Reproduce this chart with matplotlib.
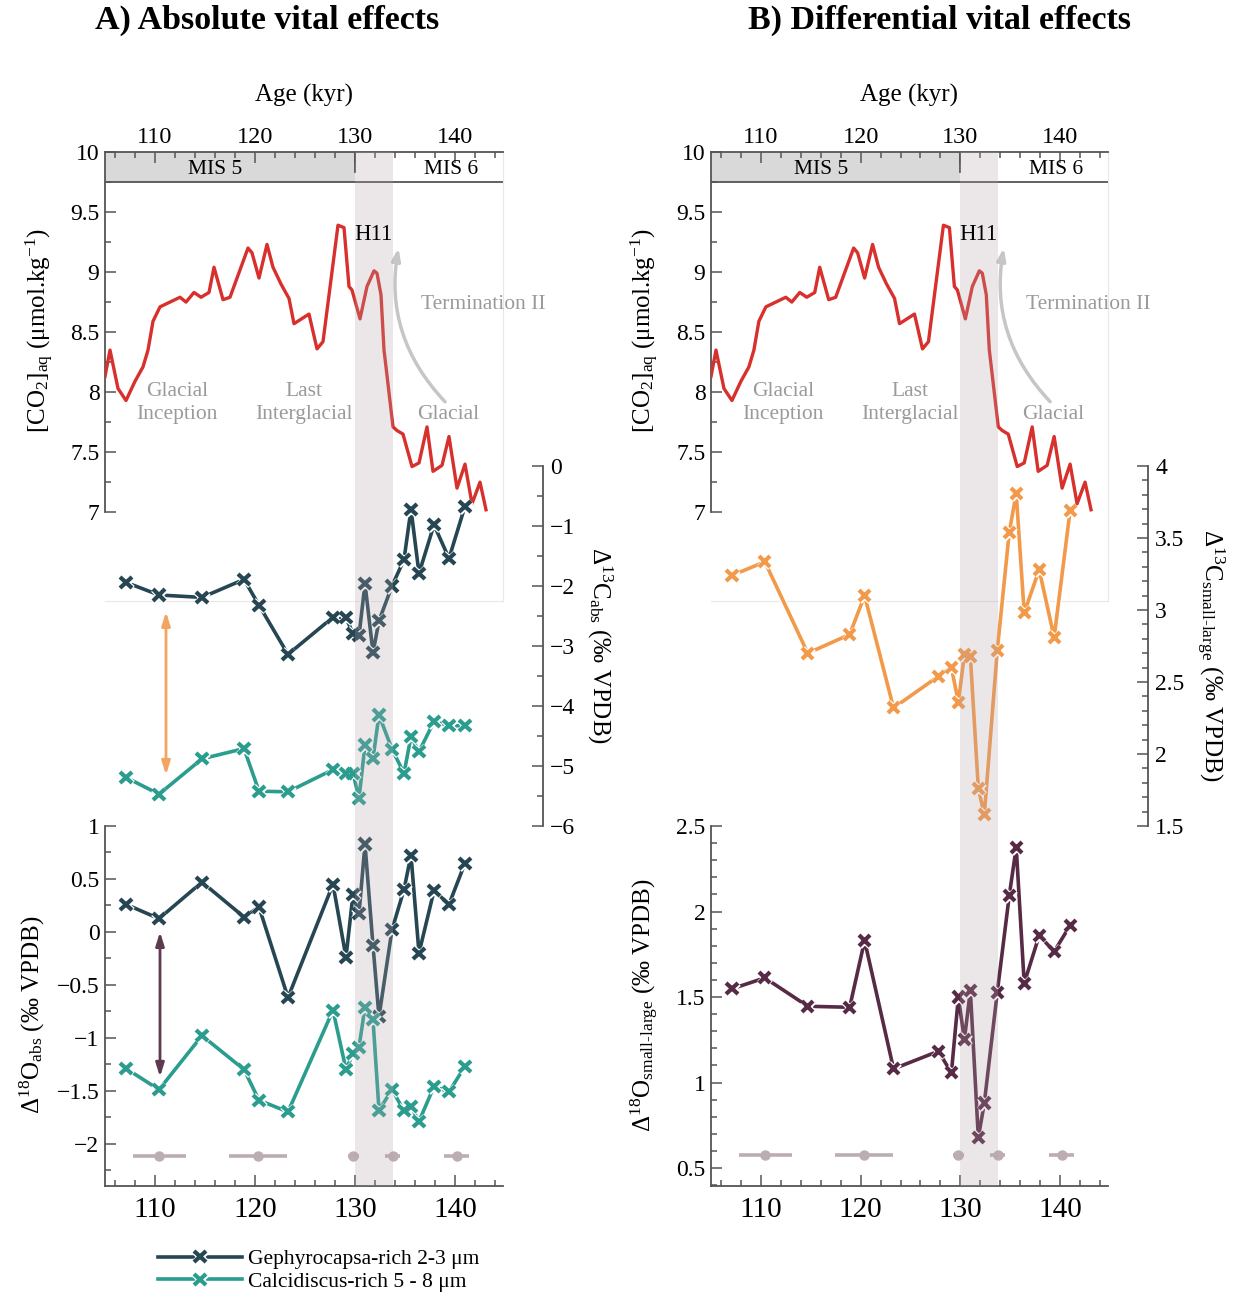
import matplotlib
matplotlib.use('Agg')
import matplotlib.pyplot as plt
import numpy as np
import matplotlib.patheffects as pe
from matplotlib.ticker import MultipleLocator, FixedLocator, FuncFormatter
from matplotlib.patches import Rectangle

plt.rcParams.update({
    'font.family': ['Liberation Serif', 'DejaVu Serif'],
    'mathtext.fontset': 'custom',
    'mathtext.rm': 'Liberation Serif',
    'mathtext.it': 'Liberation Serif:italic',
    'mathtext.bf': 'Liberation Serif:bold',
    'axes.unicode_minus': True,
})

# ---------------- data ----------------
co2_age = [105.0, 105.5, 106.3, 107.1, 108.0, 108.8, 109.3, 109.8, 110.5, 112.5,
           113.1, 113.9, 114.6, 115.4, 115.9, 116.8, 117.5, 119.3, 119.7, 120.4,
           121.2, 121.8, 122.6, 123.4, 123.9, 125.4, 126.2, 126.8, 128.3, 128.9,
           129.4, 129.7, 130.5, 131.2, 131.9, 132.2, 132.6, 132.9, 133.1, 133.8,
           134.2, 134.8, 135.7, 136.4, 137.2, 137.8, 138.7, 139.4, 140.2, 141.0,
           141.7, 142.5, 143.1]
co2_aq = [8.13, 8.35, 8.03, 7.93, 8.09, 8.21, 8.35, 8.59, 8.71, 8.79,
          8.75, 8.83, 8.79, 8.83, 9.04, 8.77, 8.79, 9.20, 9.16, 8.95,
          9.23, 9.04, 8.90, 8.78, 8.57, 8.65, 8.36, 8.42, 9.39, 9.37,
          8.88, 8.85, 8.61, 8.88, 9.01, 8.99, 8.81, 8.35, 8.21, 7.71,
          7.68, 7.65, 7.38, 7.41, 7.71, 7.34, 7.39, 7.63, 7.20, 7.40,
          7.07, 7.25, 7.02]

sample_age = [107.1, 110.4, 114.7, 118.9, 120.4, 123.3, 127.8, 129.1, 129.8, 130.4,
              131.0, 131.8, 132.4, 133.7, 134.9, 135.6, 136.4, 137.9, 139.4, 141.0]
d13c_geph = [-1.94, -2.15, -2.19, -1.89, -2.32, -3.14, -2.52, -2.53, -2.79, -2.83,
             -1.96, -3.11, -2.58, -2.00, -1.56, -0.72, -1.79, -0.98, -1.54, -0.67]
d13c_calc = [-5.19, -5.47, -4.88, -4.71, -5.42, -5.43, -5.06, -5.12, -5.12, -5.54,
             -4.65, -4.87, -4.15, -4.72, -5.12, -4.51, -4.76, -4.26, -4.33, -4.33]
d18o_geph = [0.26, 0.125, 0.47, 0.14, 0.235, -0.62, 0.45, -0.24, 0.355, 0.17,
             0.83, -0.13, -0.80, 0.02, 0.40, 0.725, -0.20, 0.39, 0.26, 0.65]
d18o_calc = [-1.29, -1.49, -0.98, -1.30, -1.59, -1.70, -0.74, -1.30, -1.15, -1.09,
             -0.71, -0.83, -1.685, -1.49, -1.69, -1.65, -1.79, -1.46, -1.51, -1.27]
d13c_small_large = [3.24, 3.335, 2.70, 2.83, 3.10, 2.32, 2.54, 2.60, 2.36, 2.69,
                    2.68, 1.76, 1.58, 2.72, 3.54, 3.81, 2.98, 3.28, 2.81, 3.69]
d18o_small_large = [1.548, 1.612, 1.446, 1.44, 1.83, 1.08, 1.183, 1.057, 1.50, 1.25,
                    1.538, 0.678, 0.88, 1.528, 2.093, 2.375, 1.58, 1.86, 1.766, 1.918]

# age control points with uncertainty
tie_age = [110.4, 120.3, 129.8, 133.8, 140.2]
tie_err_lo = [2.6, 2.9, 0.5, 0.8, 1.3]
tie_err_hi = [2.7, 2.9, 0.6, 0.7, 1.2]

age_ticks = [110, 120, 130, 140]
h11 = (130.0, 133.75)

# ---------------- style ----------------
C_RED = '#d7302d'
C_DARK = '#264653'
C_TEAL = '#2a9d8f'
C_ORANGE = '#f2994a'
C_PURPLE = '#572a45'
C_TIE = '#bcadb4'
C_SPINE = '#555555'
C_GRAYTXT = '#9a9a9a'

W, H = 1233, 1296
fig = plt.figure(figsize=(W / 100, H / 100), dpi=100)


def fpos(x0, y0, x1, y1):
    return [x0 / W, 1 - y1 / H, (x1 - x0) / W, (y1 - y0) / H]


def fmt(v, p):
    return ('%g' % v).replace('-', '\u2212')


XLIM = (105, 144.8)
halo = [pe.Stroke(linewidth=4.8, foreground='white'), pe.Normal()]


def style_spines(ax):
    for s in ax.spines.values():
        s.set_color(C_SPINE)
        s.set_linewidth(1.3)
    ax.tick_params(which='both', color=C_SPINE, width=1.1, direction='in')
    ax.tick_params(which='major', length=8)
    ax.tick_params(which='minor', length=4.5)


def build_column(x0, x1, panel):
    # ---- top: CO2 ----
    ax = fig.add_axes(fpos(x0, 152, x1, 601))
    style_spines(ax)
    ax.set_xlim(*XLIM)
    ax.set_ylim(6.26, 10)
    ax.spines['left'].set_bounds(7, 10)
    for s in ('right', 'bottom'):
        ax.spines[s].set_color('#e8e8e8')
        ax.spines[s].set_linewidth(0.8)
    ax.xaxis.tick_top()
    ax.set_xticks(age_ticks)
    ax.xaxis.set_minor_locator(MultipleLocator(2))
    ax.tick_params(axis='x', which='both', top=True, bottom=False,
                   labeltop=True, labelbottom=False, labelsize=17.5, pad=3)
    ax.set_yticks(np.arange(7, 10.01, 0.5))
    ax.yaxis.set_minor_locator(FixedLocator(np.arange(7.25, 9.8, 0.5)))
    ax.yaxis.set_major_formatter(FuncFormatter(fmt))
    ax.tick_params(axis='y', which='both', left=True, right=False, labelsize=17, pad=4)
    ax.add_patch(Rectangle((XLIM[0], 9.75), 130 - XLIM[0], 0.25,
                           facecolor='#d9d9d9', edgecolor='none', zorder=1))
    ax.axhline(9.75, color=C_SPINE, lw=1.3, zorder=2)
    ax.plot([130, 130], [10, 9.83], color=C_SPINE, lw=1.3, zorder=2)
    ax.text(116.0, 9.855, 'MIS 5', ha='center', va='center', fontsize=15.5, zorder=3)
    ax.text(139.6, 9.855, 'MIS 6', ha='center', va='center', fontsize=15.5, zorder=3)
    ax.plot(co2_age, co2_aq, color=C_RED, lw=2.4, zorder=4)
    ax.text(112.2, 7.91, 'Glacial\nInception', ha='center', va='center',
            fontsize=15.5, color=C_GRAYTXT, linespacing=1.3)
    ax.text(124.9, 7.91, 'Last\nInterglacial', ha='center', va='center',
            fontsize=15.5, color=C_GRAYTXT, linespacing=1.3)
    ax.text(139.3, 7.81, 'Glacial', ha='center', va='center',
            fontsize=15.5, color=C_GRAYTXT)
    ax.text(136.6, 8.73, 'Termination II', ha='left', va='center',
            fontsize=15.5, color=C_GRAYTXT, clip_on=False)
    ax.annotate('', xy=(134.35, 9.2), xytext=(139.0, 7.92),
                arrowprops=dict(arrowstyle='-|>,head_length=0.7,head_width=0.25',
                                color='#c6c6c6', lw=2.5,
                                connectionstyle='arc3,rad=-0.25',
                                shrinkA=0, shrinkB=0))
    ax_top = ax

    # ---- middle: delta13C ----
    ax = fig.add_axes(fpos(x0, 466, x1, 826))
    ax.patch.set_visible(False)
    style_spines(ax)
    ax.set_xlim(*XLIM)
    for s in ('left', 'top', 'bottom'):
        ax.spines[s].set_visible(False)
    ax.spines['right'].set_position(('outward', 29))
    ax.set_xticks([])
    ax.yaxis.tick_right()
    ax.yaxis.set_major_formatter(FuncFormatter(fmt))
    ax.tick_params(axis='y', which='both', right=True, left=False,
                   labelright=True, labelleft=False, labelsize=17, pad=5)
    if panel == 'A':
        ax.set_ylim(-6, 0)
        ax.set_yticks(np.arange(-6, 0.01, 1))
        ax.yaxis.set_minor_locator(MultipleLocator(0.5))
        ax.plot(sample_age, d13c_geph, color=C_DARK, lw=2.6, marker='x', ms=8,
                mew=3, path_effects=halo, zorder=5)
        ax.plot(sample_age, d13c_calc, color=C_TEAL, lw=2.6, marker='x', ms=8,
                mew=3, path_effects=halo, zorder=5)
        ax.annotate('', xy=(111.1, -2.43), xytext=(111.1, -5.15),
                    arrowprops=dict(arrowstyle='<|-|>,head_length=0.8,head_width=0.25',
                                    color='#f4a460', lw=2, shrinkA=0, shrinkB=0))
        fig.text(600 / W, 1 - 645 / H, 'Δ$^{13}$C$_{\\mathrm{abs}}$ (‰ VPDB)',
                 rotation=270, ha='center', va='center', fontsize=18)
    else:
        ax.set_ylim(1.5, 4)
        ax.set_yticks(np.arange(1.5, 4.01, 0.5))
        ax.yaxis.set_minor_locator(MultipleLocator(0.1))
        ax.plot(sample_age, d13c_small_large, color=C_ORANGE, lw=2.6, marker='x',
                ms=8, mew=3, path_effects=halo, zorder=5)
        fig.text(1210 / W, 1 - 655 / H,
                 'Δ$^{13}$C$_{\\text{small-large}}$ (‰ VPDB)',
                 rotation=270, ha='center', va='center', fontsize=18)

    # ---- bottom: delta18O ----
    ax = fig.add_axes(fpos(x0, 826, x1, 1186))
    ax.patch.set_visible(False)
    style_spines(ax)
    ax.set_xlim(*XLIM)
    ax.spines['right'].set_visible(False)
    ax.spines['top'].set_visible(False)
    ax.set_xticks(age_ticks)
    ax.xaxis.set_minor_locator(MultipleLocator(2))
    ax.tick_params(axis='x', which='both', top=False, bottom=True,
                   labelsize=21, pad=8)
    ax.yaxis.set_major_formatter(FuncFormatter(fmt))
    ax.tick_params(axis='y', which='both', labelsize=17, pad=4)
    if panel == 'A':
        ax.set_ylim(-2.4, 1)
        ax.set_yticks(np.arange(-2, 1.01, 0.5))
        ax.yaxis.set_minor_locator(MultipleLocator(0.25))
        l1, = ax.plot(sample_age, d18o_geph, color=C_DARK, lw=2.6, marker='x', ms=8,
                      mew=3, path_effects=halo, zorder=5,
                      label='Gephyrocapsa-rich 2-3 μm')
        l2, = ax.plot(sample_age, d18o_calc, color=C_TEAL, lw=2.6, marker='x', ms=8,
                      mew=3, path_effects=halo, zorder=5,
                      label='Calcidiscus-rich 5 - 8 μm')
        ax.annotate('', xy=(110.5, 0.0), xytext=(110.5, -1.37),
                    arrowprops=dict(arrowstyle='<|-|>,head_length=0.8,head_width=0.25',
                                    color='#5e3a50', lw=2, shrinkA=0, shrinkB=0))
        tie_y = -2.12
        fig.text(32 / W, 1 - 1015 / H, 'Δ$^{18}$O$_{\\mathrm{abs}}$ (‰ VPDB)',
                 rotation=90, ha='center', va='center', fontsize=18)
        fig.legend(handles=[l1, l2], loc='upper left',
                   bbox_to_anchor=(158 / W, 1 - 1249 / H), frameon=False,
                   fontsize=15.5, handlelength=3.9, handletextpad=0.3,
                   borderpad=0, borderaxespad=0, labelspacing=0.12)
    else:
        ax.set_ylim(0.395, 2.5)
        ax.set_yticks(np.arange(0.5, 2.51, 0.5))
        ax.yaxis.set_minor_locator(MultipleLocator(0.1))
        ax.plot(sample_age, d18o_small_large, color=C_PURPLE, lw=2.6, marker='x',
                ms=8, mew=3, path_effects=halo, zorder=5)
        tie_y = 0.575
        fig.text(645 / W, 1 - 1005 / H,
                 'Δ$^{18}$O$_{\\text{small-large}}$ (‰ VPDB)',
                 rotation=90, ha='center', va='center', fontsize=18)
    ax.errorbar(tie_age, [tie_y] * len(tie_age), xerr=[tie_err_lo, tie_err_hi],
                fmt='o', color=C_TIE, ms=6.5, elinewidth=2.6, capsize=0, zorder=4)

    # ---- H11 overlay band ----
    ov = fig.add_axes(fpos(x0, 152, x1, 1186))
    ov.set_xlim(*XLIM)
    ov.set_ylim(0, 1)
    ov.axvspan(h11[0], h11[1], color='#b3a3ab', alpha=0.25, lw=0)
    ov.axis('off')
    ov.text(131.8, 9.31, 'H11', transform=ax_top.transData, ha='center',
            va='center', fontsize=16.5, color='black')

    # CO2 label + Age label
    lx = 40 if panel == 'A' else 645
    fig.text(lx / W, 1 - 330 / H, '[CO$_2$]$_{\\mathrm{aq}}$ (μmol.kg$^{-1}$)',
             rotation=90, ha='center', va='center', fontsize=18)
    cx = (x0 + x1) / 2
    fig.text(cx / W, 1 - 95 / H, 'Age (kyr)', ha='center', va='center', fontsize=18)


build_column(105, 503, 'A')
build_column(711, 1108, 'B')

fig.text(267 / W, 1 - 20 / H, 'A) Absolute vital effects', ha='center', va='center',
         fontsize=24.5, fontweight='bold')
fig.text(940 / W, 1 - 20 / H, 'B) Differential vital effects', ha='center',
         va='center', fontsize=24.5, fontweight='bold')

fig.savefig('out.png', dpi=100)
